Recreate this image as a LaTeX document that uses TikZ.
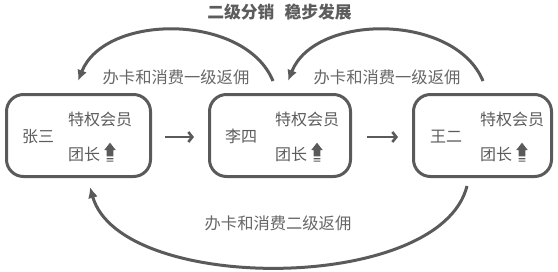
\documentclass[tikz,border=0pt]{standalone}
\usepackage{fontspec}
\setmainfont{Noto Sans CJK SC}
\usetikzlibrary{arrows.meta,calc}
\definecolor{boxgray}{HTML}{5A5A5A}
\definecolor{txtgray}{HTML}{5C5C5C}
\definecolor{lblgray}{HTML}{666666}
\newcommand\upicon[1]{%
  \fill[boxgray,shift={(#1)}] (0,-7.3) -- (5.7,0) -- (3.3,0) -- (3.3,6.4) -- (-3.3,6.4) -- (-3.3,0) -- (-5.7,0) -- cycle
    (-3.3,8) rectangle (3.3,9.4) (-3.3,10.7) rectangle (3.3,11.7);}
\begin{document}
\begin{tikzpicture}[x=1pt,y=-1pt,
  box/.style={draw=boxgray,line width=3pt,rounded corners=17pt,minimum height=82pt,inner sep=0pt},
  txt/.style={text=txtgray,font=\fontsize{16}{18}\selectfont,inner sep=0pt,anchor=west},
  lbl/.style={text=lblgray,font=\fontsize{16.3}{18}\selectfont,inner sep=0pt},
  flow/.style={draw=boxgray,line width=3pt,-{Latex[length=11pt,width=10pt]}},
  nextarrow/.style={draw=boxgray,line width=2.6pt,-{Straight Barb[length=4pt,width=10pt,line width=2.6pt]}}]
\useasboundingbox (0,0) rectangle (558,271);
\node[box,minimum width=144pt] (b1) at (78.5,135.5) {};
\node[box,minimum width=141pt] (b2) at (280,135.5) {};
\node[box,minimum width=138pt] (b3) at (482.5,135.5) {};
% box texts
\node[txt] (n1) at (22,136.5) {张三};
\node[txt] (v1) at (68,119.5) {特权会员};
\node[txt] (t1) at (68,154.5) {团长};
\node[txt] (n2) at (225,136.5) {李四};
\node[txt] (v2) at (275,119.5) {特权会员};
\node[txt] (t2) at (275,154.5) {团长};
\node[txt] (n3) at (430,136.5) {王二};
\node[txt] (v3) at (480,119.5) {特权会员};
\node[txt] (t3) at (480,154.5) {团长};
\upicon{110,150}
\upicon{317,150}
\upicon{522,150}
% horizontal arrows
\draw[nextarrow] ($(b1.east)+(13,1.5)$) -- ($(b2.west)+(-14,1.5)$);
\draw[nextarrow] ($(b2.east)+(15,1.5)$) -- ($(b3.west)+(-14,1.5)$);
% arcs
\coordinate (s1) at ($(b2.north)+(-7,-12)$);
\coordinate (e1) at ($(b1.north)+(-0.5,-12)$);
\coordinate (s2) at ($(b3.north)+(0.5,-12)$);
\coordinate (e2) at ($(b2.north)+(8,-12)$);
\coordinate (s3) at ($(b3.south)+(-15.5,8)$);
\coordinate (e3) at ($(b1.south)+(11.5,9)$);
\draw[flow] (s1) .. controls (245,13) and (105,13) .. (e1);
\draw[flow] (s2) .. controls (455,13) and (315,13) .. (e2);
\draw[flow] (s3) .. controls (440,294) and (120,294) .. (e3);
% labels
\node[lbl] (l1) at (176,77) {办卡和消费一级返佣};
\node[lbl] (l2) at (387,77) {办卡和消费一级返佣};
\node[lbl] (l3) at (278,223) {办卡和消费二级返佣};
\node[lbl,font=\fontsize{16.8}{18}\selectfont\bfseries,text=txtgray] (title) at (279.5,12) {二级分销\hspace{0.6em}稳步发展};
\end{tikzpicture}
\end{document}
